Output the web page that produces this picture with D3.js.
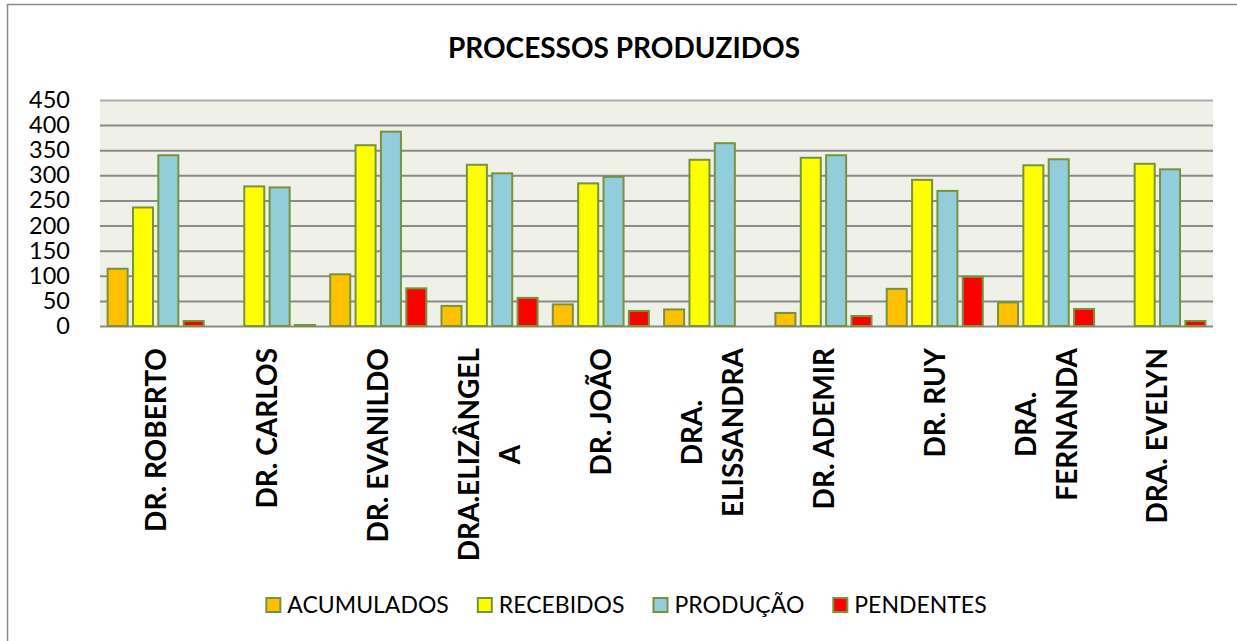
<!DOCTYPE html>
<html>
<head>
<meta charset="utf-8">
<script src="https://cdn.jsdelivr.net/npm/d3@7"></script>
<style>
  html, body { margin: 0; padding: 0; background: #fff; }
  svg { display: block; }
</style>
</head>
<body>
<script>
// categories (judges) and the wrapped text of their axis labels
const categories = ["DR. ROBERTO", "DR. CARLOS", "DR. EVANILDO", "DRA.ELIZÂNGELA", "DR. JOÃO",
    "DRA. ELISSANDRA", "DR. ADEMIR", "DR. RUY", "DRA. FERNANDA", "DRA. EVELYN"];
const categoryLabelLines = [["DR. ROBERTO"], ["DR. CARLOS"], ["DR. EVANILDO"], ["DRA.ELIZÂNGEL", "A"], ["DR. JOÃO"],
    ["DRA.", "ELISSANDRA"], ["DR. ADEMIR"], ["DR. RUY"], ["DRA.", "FERNANDA"], ["DRA. EVELYN"]];

// series
const seriesNames = ["ACUMULADOS", "RECEBIDOS", "PRODUÇÃO", "PENDENTES"];
const acumulados = [114, 0, 103, 40, 43, 33, 26, 74, 47, 0];
const recebidos = [236, 278, 360, 321, 284, 331, 335, 291, 320, 323];
const producao = [340, 276, 387, 304, 297, 364, 340, 269, 332, 312];
const pendentes = [10, 2, 75, 56, 30, 0, 20, 98, 34, 10];
const seriesColors = ["#FFC000", "#FFFF00", "#92CDDC", "#FF0000"];

// y tick values
const yTicks = [0, 50, 100, 150, 200, 250, 300, 350, 400, 450];

const title = "PROCESSOS PRODUZIDOS";

const W = 1237, H = 641;
const plot = {left: 100, right: 1213, top: 100, bottom: 326};

const svg = d3.select("body").append("svg")
    .attr("width", W)
    .attr("height", H);

// chart frame (only the left and top edges are visible)
svg.append("path")
    .attr("d", "M7.5," + H + " V4.5 H" + W)
    .attr("fill", "none")
    .attr("stroke", "#8c8c8c")
    .attr("stroke-width", 1.5);

// title
svg.append("text")
    .attr("x", 624)
    .attr("y", 58)
    .attr("text-anchor", "middle")
    .style("font-family", "Lato, sans-serif")
    .style("font-weight", "bold")
    .style("font-size", "28px")
    .text(title);

// scales
const x0 = d3.scaleBand()
    .domain(categories)
    .range([plot.left, plot.right]);

const x1 = d3.scaleBand()
    .domain(seriesNames)
    .range([0, x0.bandwidth()])
    .paddingInner(0.21)
    .paddingOuter(0.3);

const y = d3.scaleLinear()
    .domain([0, 450])
    .range([plot.bottom, plot.top]);

// plot background
svg.append("rect")
    .attr("x", plot.left)
    .attr("y", plot.top)
    .attr("width", plot.right - plot.left)
    .attr("height", plot.bottom - plot.top)
    .attr("fill", "#EFF1E9");

// gridlines
svg.append("g")
    .attr("transform", "translate(" + plot.left + ",0)")
    .call(d3.axisLeft(y).tickValues(yTicks).tickSize(-(plot.right - plot.left)).tickFormat(""))
    .call(g => g.select(".domain").remove())
    .call(g => g.selectAll("line").attr("stroke", "#8a8a8a").attr("stroke-width", 2))
    .call(g => g.selectAll("line").filter(d => d === 450).attr("stroke", "#ababab"));

// y axis labels
svg.append("g")
    .attr("transform", "translate(" + plot.left + ",0)")
    .call(d3.axisLeft(y).tickValues(yTicks).tickSize(0).tickPadding(30))
    .call(g => g.select(".domain").remove())
    .call(g => g.selectAll("text")
        .attr("fill", "#000")
        .style("font-family", "Lato, sans-serif")
        .style("font-size", "23.5px"));

// bars
const seriesValues = [acumulados, recebidos, producao, pendentes];
const rows = categories.map((c, i) => ({
    cat: c,
    vals: seriesNames.map((s, j) => ({name: s, value: seriesValues[j][i], color: seriesColors[j]}))
}));

const groups = svg.append("g")
    .selectAll("g")
    .data(rows)
    .join("g")
    .attr("transform", d => "translate(" + x0(d.cat) + ",0)");

groups.selectAll("rect")
    .data(d => d.vals.filter(v => v.value > 0))
    .join("rect")
    .attr("x", d => x1(d.name))
    .attr("y", d => y(d.value))
    .attr("width", x1.bandwidth())
    .attr("height", d => y(0) - y(d.value))
    .attr("fill", d => d.color)
    .attr("stroke", "#77933C")
    .attr("stroke-width", 2);

// category labels, rotated, top aligned below the plot
const labelTop = 348;
const lineH = 41;
categories.forEach((c, i) => {
    const lines = categoryLabelLines[i];
    const cx = x0(c) + x0.bandwidth() / 2;
    const g = svg.append("g");
    const texts = lines.map(ln => g.append("text")
        .attr("text-anchor", "middle")
        .attr("dy", "0.36em")
        .style("font-family", "Lato, sans-serif")
        .style("font-weight", "bold")
        .style("font-size", "28px")
        .text(ln));
    const maxLen = d3.max(texts, t => t.node().getComputedTextLength());
    texts.forEach((t, k) => {
        const lx = cx + (k - (lines.length - 1) / 2) * lineH;
        t.attr("transform", "translate(" + lx + "," + (labelTop + maxLen / 2) + ") rotate(-90)");
    });
});

// legend
const legend = svg.append("g");
let lx = 0;
seriesNames.forEach((s, j) => {
    const item = legend.append("g").attr("transform", "translate(" + lx + ",0)");
    item.append("rect")
        .attr("x", 1)
        .attr("y", 598)
        .attr("width", 14)
        .attr("height", 14)
        .attr("fill", seriesColors[j])
        .attr("stroke", "#77933C")
        .attr("stroke-width", 2);
    const t = item.append("text")
        .attr("x", 22)
        .attr("y", 613)
        .style("font-family", "Lato, sans-serif")
        .style("font-size", "23px")
        .text(s);
    lx += 22 + t.node().getComputedTextLength() + 28;
});
const legendW = lx - 28;
legend.attr("transform", "translate(" + (626 - legendW / 2) + ",0)");
</script>
</body>
</html>
